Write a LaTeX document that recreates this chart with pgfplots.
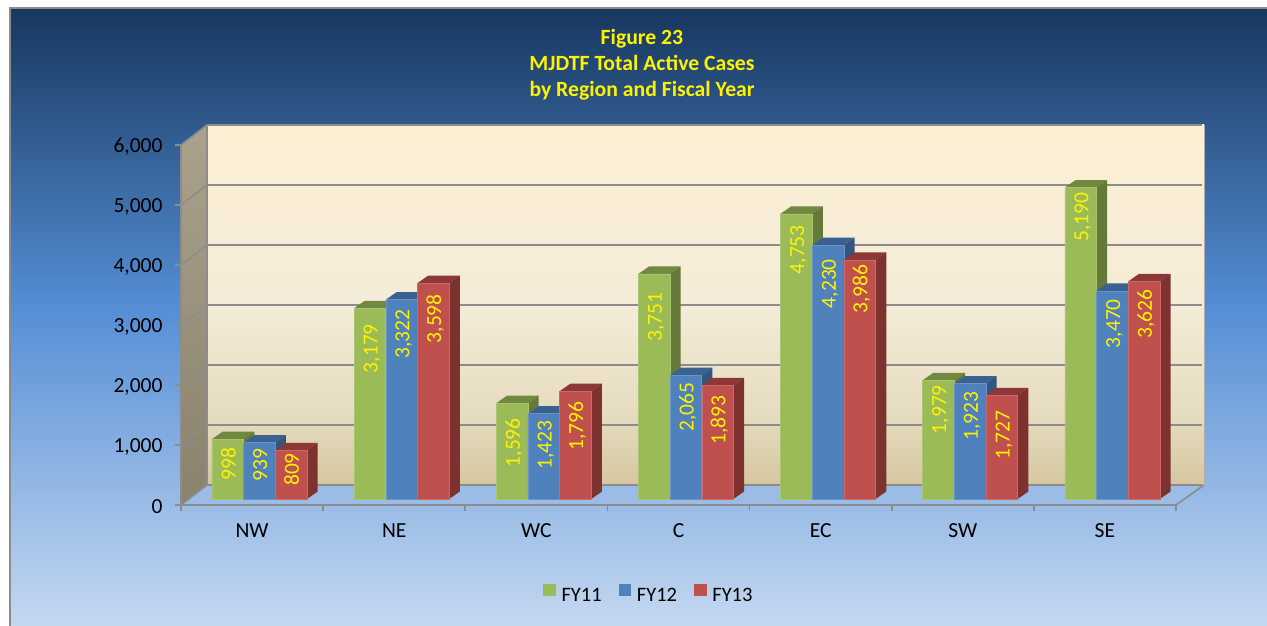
\documentclass[border=0pt]{standalone}
\usepackage{pgfplots}
\usepackage{pgfplotstable}
\usepackage{fontspec}
\setmainfont{Carlito}
\pgfplotsset{compat=1.18}

\definecolor{fy11}{HTML}{9BBB59}
\definecolor{fy12}{HTML}{4F81BD}
\definecolor{fy13}{HTML}{C0504D}
\definecolor{fy11top}{HTML}{71893F}
\definecolor{fy11side}{HTML}{657A39}
\definecolor{fy12top}{HTML}{3A6190}
\definecolor{fy12side}{HTML}{34567E}
\definecolor{fy13top}{HTML}{8C3836}
\definecolor{fy13side}{HTML}{7E3230}
\definecolor{rulegray}{HTML}{8C8C8C}
\definecolor{bgA}{HTML}{C6D9F1}
\definecolor{bgB}{HTML}{558ED5}
\definecolor{bgC}{HTML}{17375E}
\definecolor{wallA}{HTML}{D6C7A1}
\definecolor{wallB}{HTML}{E6DCC0}
\definecolor{wallC}{HTML}{F4ECD8}
\definecolor{wallD}{HTML}{FDEFD3}
\definecolor{sideTop}{HTML}{ABA28C}
\definecolor{sideBot}{HTML}{8A816E}
\definecolor{floorc}{HTML}{9ABCE6}
\pgfdeclareverticalshading{bgshade}{100bp}{color(0bp)=(bgA); color(25bp)=(bgA); color(51bp)=(bgB); color(75bp)=(bgC); color(100bp)=(bgC)}
\pgfdeclareverticalshading{wallshade}{100bp}{color(0bp)=(wallA); color(25bp)=(wallA); color(35bp)=(wallB); color(50bp)=(wallC); color(75bp)=(wallD); color(100bp)=(wallD)}

% region index, value, label centre below bar top (pixels)
\pgfplotstableread{
x    v    off
0.5  998  24.9
1.5  3179 40.4
2.5  1596 39.5
3.5  3751 43.4
4.5  4753 35.9
5.5  1979 29.4
6.5  5190 29.7
}\tblA
\pgfplotstableread{
x    v    off
0.5  939  22.1
1.5  3322 34.3
2.5  1423 31.4
3.5  2065 32.2
4.5  4230 38.5
5.5  1923 32.7
6.5  3470 32.9
}\tblB
\pgfplotstableread{
x    v    off
0.5  809  19.0
1.5  3598 35.6
2.5  1796 34.8
3.5  1893 34.6
4.5  3986 29.5
5.5  1727 39.9
6.5  3626 32.9
}\tblC

% top and side face of a bar: category centre, value, bar shift, colour stem
\newcommand\faces[4]{%
  \pgfmathsetmacro\xa{#1+#3-0.1113}%
  \pgfmathsetmacro\xb{#1+#3+0.1113}%
  \pgfmathsetmacro\xc{#1+#3+0.1113+0.0753}%
  \pgfmathsetmacro\xd{#1+#3-0.1113+0.0753}%
  \pgfmathsetmacro\ya{#2+100}%
  \pgfmathsetmacro\yb{#2+225}%
  \edef\tmp{\noexpand\addplot[forget plot,fill=#4top,draw=none] coordinates {(\xa,\ya) (\xb,\ya) (\xc,\yb) (\xd,\yb)} -- cycle;
  \noexpand\addplot[forget plot,fill=#4side,draw=none] coordinates {(\xb,100) (\xc,225) (\xc,\yb) (\xb,\ya)} -- cycle;}%
  \tmp}

\pgfplotsset{
  barstyle/.style={
    ybar,bar width=0.2227,yshift=6pt,line width=0.5pt,
    visualization depends on={\thisrow{off} \as \off},
    nodes near coords={\pgfmathprintnumber{\pgfplotspointmeta}},
    nodes near coords align={center},
    every node near coord/.append style={
      font=\fontsize{21.5}{24}\selectfont,text=yellow,anchor=center,inner sep=0pt,
      text height=13.5pt,text depth=0pt,
      xshift=#1,yshift=-\off pt,rotate=90},
  },
}

\begin{document}
\begin{tikzpicture}[x=1pt,y=1pt]
\path[use as bounding box] (0,0) rectangle (1267,626);
\clip (0,0) rectangle (1267,626);
% chart area
\shade[shading=bgshade] (10,-5) rectangle (1280,618);
\draw[rulegray,line width=1.6pt] (10,-5) -- (10,618) -- (1280,618);
% floor, side wall, back wall (picture y = 626 - pixel y)
\fill[fill=floorc] (181,121) -- (207,141) -- (1204,141) -- (1176,121) -- cycle;
\shade[top color=sideTop,bottom color=sideBot] (181,481) -- (207,501) -- (207,141) -- (181,121) -- cycle;
\shade[shading=wallshade] (207,141) rectangle (1204,501);
\draw[rulegray,line width=1.6pt] (207,141) -- (207,501);
\draw[rulegray!70,line width=0.8pt] (1204,141) -- (1204,501);
\draw[rulegray,line width=1.6pt] (1176,121) -- (1204,141);
\begin{axis}[
  at={(181pt,121pt)},anchor=origin,
  scale only axis,width=995pt,height=360pt,
  xmin=0,xmax=7,ymin=0,ymax=6000,clip=false,
  axis lines=left,
  axis line style={-,draw=rulegray,line width=1.6pt},
  ytick={0,1000,2000,3000,4000,5000,6000},
  scaled y ticks=false,
  /pgf/number format/.cd,1000 sep={,},assume math mode=true,/pgfplots/.cd,
  xtick={0.5,1.5,2.5,3.5,4.5,5.5,6.5},
  xticklabels={NW,NE,WC,C,EC,SW,SE},
  minor xtick={0,1,2,3,4,5,6,7},
  tick align=outside,
  major tick length=6pt,minor tick length=6pt,
  major x tick style={draw=none},
  minor x tick style={draw=rulegray,line width=1.6pt},
  major y tick style={draw=rulegray,line width=1.6pt},
  tick label style={font=\fontsize{21.5}{24}\selectfont,text=black},
  yticklabel style={xshift=-9pt,yshift=-2pt},
  xticklabel style={yshift=-9pt},
  ymajorgrids,
  grid style={draw=rulegray,line width=1.6pt,xshift=26pt,yshift=20pt},
  legend style={at={(0.4703,-0.2486)},anchor=center,draw=none,fill=none,
    font=\fontsize{20.5}{24}\selectfont,inner sep=0pt,
    /tikz/every even column/.append style={column sep=15pt},
    /tikz/every odd column/.append style={column sep=4.2pt}},
  legend columns=3,
  legend cell align=left,
]
\pgfplotsinvokeforeach{0,1000,2000,3000,4000,5000,6000}{
  \draw[rulegray,line width=1.6pt] (axis cs:0,#1) -- ++(26pt,20pt);
}
% FY11
\faces{0.5}{998}{-0.171}{fy11}\faces{1.5}{3179}{-0.171}{fy11}\faces{2.5}{1596}{-0.171}{fy11}
\faces{3.5}{3751}{-0.171}{fy11}\faces{4.5}{4753}{-0.171}{fy11}\faces{5.5}{1979}{-0.171}{fy11}
\faces{6.5}{5190}{-0.171}{fy11}
\addplot[barstyle={-23.3pt},fill=fy11,draw=fy11!85!white,bar shift=-0.171,
  legend image code/.code={\fill[fy11] (0pt,-5.5pt) rectangle (11.5pt,6pt);}] table[x=x,y=v] {\tblA};
\addlegendentry{FY11}
% FY12
\faces{0.5}{939}{0.052}{fy12}\faces{1.5}{3322}{0.052}{fy12}\faces{2.5}{1423}{0.052}{fy12}
\faces{3.5}{2065}{0.052}{fy12}\faces{4.5}{4230}{0.052}{fy12}\faces{5.5}{1923}{0.052}{fy12}
\faces{6.5}{3470}{0.052}{fy12}
\addplot[barstyle={8.4pt},fill=fy12,draw=fy12!85!white,bar shift=0.052,
  legend image code/.code={\fill[fy12] (0pt,-5.5pt) rectangle (11.5pt,6pt);}] table[x=x,y=v] {\tblB};
\addlegendentry{FY12}
% FY13
\faces{0.5}{809}{0.275}{fy13}\faces{1.5}{3598}{0.275}{fy13}\faces{2.5}{1796}{0.275}{fy13}
\faces{3.5}{1893}{0.275}{fy13}\faces{4.5}{3986}{0.275}{fy13}\faces{5.5}{1727}{0.275}{fy13}
\faces{6.5}{3626}{0.275}{fy13}
\addplot[barstyle={40.1pt},fill=fy13,draw=fy13!85!white,bar shift=0.275,
  legend image code/.code={\fill[fy13] (0pt,-5.5pt) rectangle (11.5pt,6pt);}] table[x=x,y=v] {\tblC};
\addlegendentry{FY13}
\end{axis}
\node[align=center,text=yellow,font=\bfseries\fontsize{21.7}{26}\selectfont] at (642,561) {Figure 23\\MJDTF Total Active Cases\\by Region and Fiscal Year};
\end{tikzpicture}
\end{document}
